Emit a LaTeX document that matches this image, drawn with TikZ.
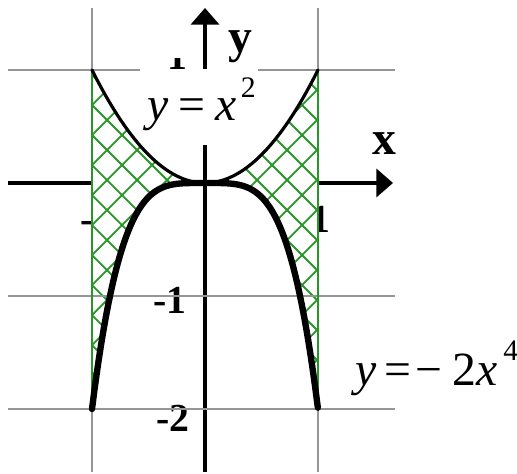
\documentclass[tikz,border=0pt]{standalone}
\usepackage{fontspec}
\setmainfont{Liberation Serif}
\usetikzlibrary{arrows.meta}
\definecolor{hatchgreen}{RGB}{40,150,40}
\definecolor{gridgray}{RGB}{150,150,150}
\newcommand{\supnum}[2]{\raisebox{#1}{\fontsize{7.5}{8}\selectfont #2}}
\tikzset{
  gridline/.style={draw=gridgray, line width=0.35pt},
  axisline/.style={draw=black, line width=1.1pt, -{Triangle[length=4.2pt,width=7pt]}},
  tickmark/.style={draw=black, line width=0.55pt},
  hatchline/.style={draw=hatchgreen, line width=0.45pt},
  edgeline/.style={draw=hatchgreen, line width=0.5pt},
  parab/.style={draw=black, line width=0.8pt, line cap=round},
  quart/.style={draw=black, line width=1.6pt, line cap=round},
  ticklbl/.style={inner sep=0pt, font=\fontsize{10}{12}\selectfont\bfseries},
  axlbl/.style={inner sep=0pt, anchor=base west, font=\fontsize{12}{14}\selectfont\bfseries},
  eqlbl/.style={inner sep=0pt, anchor=base west, font=\fontsize{12}{14}\selectfont},
}
\begin{document}
\begin{tikzpicture}
\useasboundingbox (-1.8142,-2.5752) rectangle (2.7611,1.6195);
% axes
\coordinate (xs) at (-1.743,0);
\coordinate (xe) at (1.664,0);
\coordinate (ys) at (0,-2.558);
\coordinate (ye) at (0,1.549);
\draw[axisline] (xs) -- (xe);
\draw[axisline] (ys) -- (ye);
% y ticks
\draw[tickmark] (-0.04,-1) -- (0.09,-1);
\draw[tickmark] (-0.04,-2) -- (0.09,-2);
% tick labels
\node[ticklbl, anchor=base east] (ym1) at (-0.159,-1.159) {-1};
\node[ticklbl, anchor=base east] (ym2) at (-0.133,-2.195) {-2};
\node[ticklbl, anchor=base west] (xm1) at (-1.106,-0.442) {-1};
\node[ticklbl, anchor=base] (xp1) at (1.018,-0.442) {1};
\begin{scope}
  \clip (-0.4,1.0) rectangle (-0.1,1.106);
  \node[ticklbl, anchor=base] (yp1) at (-0.24,1.0) {1};
\end{scope}
% region fill and hatch
\path[fill=white] plot[domain=-1:1, samples=80] (\x,{(\x)*(\x)})
   -- plot[domain=1:-1, samples=80] (\x,{-2*(\x)*(\x)*(\x)*(\x)}) -- cycle;
\begin{scope}
  \clip plot[domain=-1:1, samples=80] (\x,{(\x)*(\x)})
   -- plot[domain=1:-1, samples=80] (\x,{-2*(\x)*(\x)*(\x)*(\x)}) -- cycle;
  \foreach \k in {-12,...,18} {
    \pgfmathsetmacro\cA{1.159-0.2655*\k}
    \pgfmathsetmacro\cB{-0.841-0.2655*\k}
    \draw[hatchline] (-1.1,{\cA-1.1}) -- (1.1,{\cA+1.1});
    \draw[hatchline] (-1.1,{\cB+1.1}) -- (1.1,{\cB-1.1});
  }
\end{scope}
% grid
\draw[gridline] (-1,-2.558) -- (-1,1.549);
\draw[gridline] (1,-2.558) -- (1,1.549);
\draw[gridline] (-1.743,1) -- (1.681,1);
\draw[gridline] (-1.743,-1) -- (1.681,-1);
\draw[gridline] (-1.743,-2) -- (1.681,-2);
% label area
\fill[white] (-0.575,0.336) rectangle (0.469,1.008);
% green edges
\draw[edgeline] (-1,1) -- (-1,-2);
\draw[edgeline] (1,1) -- (1,-2);
% curves
\draw[parab] plot[domain=-1:1, samples=80] (\x,{(\x)*(\x)});
\draw[quart] plot[domain=-1:1, samples=100] (\x,{-2*(\x)*(\x)*(\x)*(\x)});
% labels
\node[axlbl] (ylab) at (0.204,1.159) {y};
\node[axlbl] (xlab) at (1.478,0.248) {x};
\node[eqlbl] (eq1) at (-0.513,0.549) {\textit{y}\hspace{2.5pt}=\hspace{2.5pt}\textit{x}\hspace{1pt}\supnum{5.8pt}{2}};
\node[eqlbl] (eq2) at (1.327,-1.788) {\textit{y}\hspace{2pt}=\hspace{1pt}−\hspace{2.5pt}2\textit{x}\hspace{1.5pt}\supnum{6.2pt}{4}};
\end{tikzpicture}
\end{document}
